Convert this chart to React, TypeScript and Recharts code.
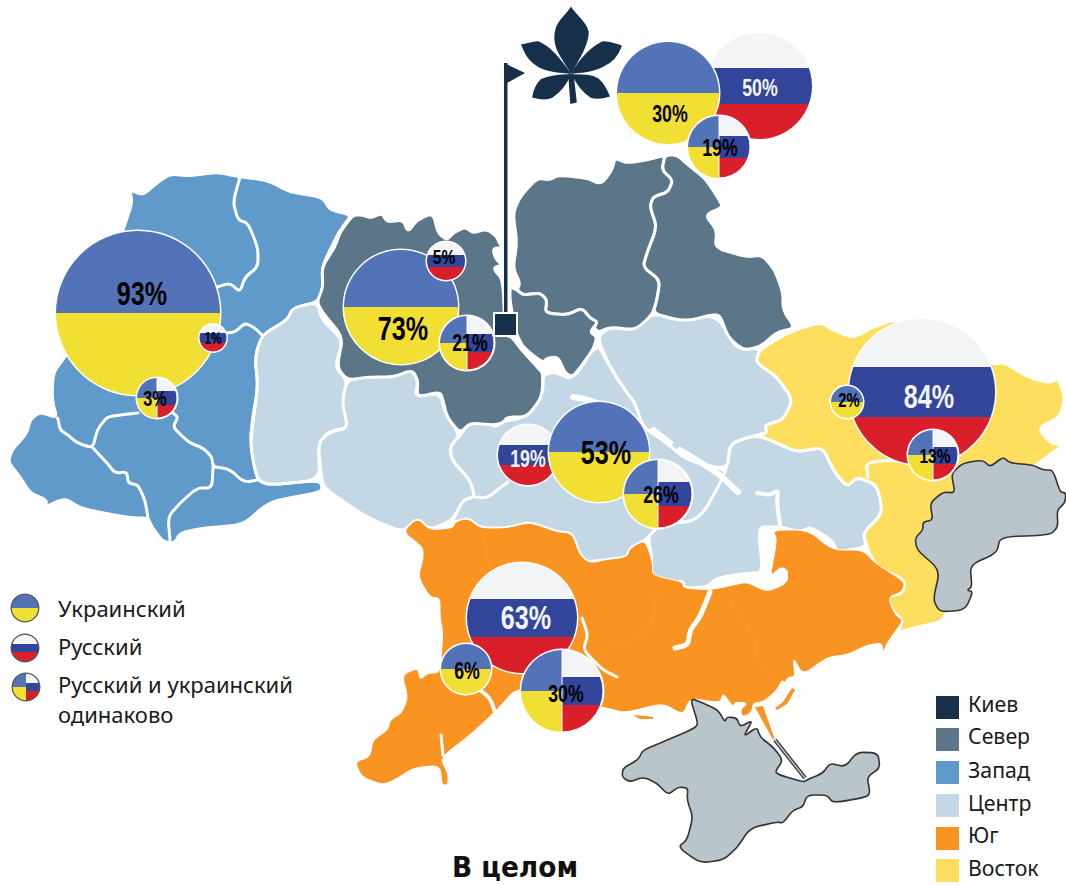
import { PieChart, Pie, Cell } from "recharts";

// values, one per macro region
const regionNames = ["Запад", "Север", "Центр", "Киев", "Юг", "Восток"];
const ukrainian = [93, 73, 53, 30, 6, 2];
const russian = [1, 5, 19, 50, 63, 84];
const both = [3, 21, 26, 19, 30, 13];

const legendLanguages = ["Украинский", "Русский", "Русский и украинский", "одинаково"];
const legendRegions = ["Киев", "Север", "Запад", "Центр", "Юг", "Восток"];
const legendColors = ["#17304A", "#5A7688", "#5F9ACB", "#C3D8E4", "#F99422", "#FDDE5F"];

// flag parts, the slices every circle is cut into
const uaSlices = [{ name: "синий", value: 1 }, { name: "жёлтый", value: 1 }];
const ruSlices = [{ name: "триколор", value: 1 }];
const bothSlices = [{ name: "синий", value: 1 }, { name: "жёлтый", value: 1 }, { name: "триколор", value: 2 }];

const BLUE = "#5373B8";
const YELLOW = "#F2DF33";

// layout, same order as regionNames: [cx, cy, r, label dx, label dy, font size]
const uaLayout = [
  [138, 313, 82, 4, -20, 34],
  [401, 307, 57, 2, 21, 34],
  [599, 452, 50, 7, 0, 34],
  [668, 93, 51, 2, 20, 24],
  [466, 669, 25, 1, 1, 24],
  [847, 402, 16, 2, -2, 20],
];
const ruLayout = [
  [213, 338, 13.5, 0, 0, 16],
  [446, 261, 19, -2, -4, 21],
  [528, 455, 30, 0, 3, 24],
  [759, 86, 53, 1, 1, 24],
  [522, 618, 55, 4, -1, 34],
  [922, 392, 73, 7, 4, 34],
];
const bothLayout = [
  [157, 398, 20, -2, 0, 22],
  [467, 343, 27, 3, -1, 24],
  [658, 494, 34, 3, 0, 24],
  [719, 147, 31, 1, 0, 24],
  [562, 691, 41, 4, 2, 24],
  [933, 455, 25, 2, 1, 21],
];

const west = "130,190 143,195 157,183 170,174 190,176 217,172 240,177 267,180 290,192 310,195 323,198 330,210 352,215 340,230 330,250 322,267 323,290 317,302 293,308 287,320 262,335 255,357 258,387 253,415 250,443 257,480 270,485 320,480 323,492 277,500 263,507 243,525 203,528 180,533 175,543 163,542 152,527 148,518 132,518 103,513 80,508 65,498 45,507 47,500 30,493 20,477 8,462 12,450 27,433 30,420 40,412 57,418 52,400 53,373 65,357 100,300 127,218 132,203";
const westLines = [
  "240,177 233,202 238,220 248,223 258,248 258,267 245,277 240,292 230,283 217,287",
  "262,335 255,328 245,323 235,332 227,333",
  "173,413 178,417 173,427 183,437 190,443 203,448 212,457 213,467 225,468 233,472 240,479 247,482 257,480",
  "138,413 120,415 107,417 97,430 93,448 77,443 68,435 60,430 58,418 57,418",
  "93,448 107,463 115,473 127,472 128,483 138,485 145,500 148,518",
  "213,467 212,488 197,488 180,503 168,517 170,540",
];
const center = [
  "262,335 287,320 293,308 317,302 322,320 343,340 335,367 347,380 343,400 350,427 327,432 318,447 320,480 270,485 257,480 250,443 258,387 255,357",
  "347,380 365,377 383,375 400,374 410,368 418,380 415,397 440,393 445,413 460,435 450,447 452,460 470,480 475,497 463,500 453,520 430,530 417,518 403,532 380,523 360,513 327,490 322,482 318,443 330,432 348,428 342,402",
  "460,435 470,423 483,422 497,427 500,422 523,418 543,393 543,375 555,372 573,380 597,343 610,367 627,393 635,403 643,427 663,440 687,460 727,470 740,492 700,520 660,525 648,537 645,540 630,548 627,557 603,560 588,562 580,555 572,533 557,532 530,522 507,528 480,528 468,518 455,522 453,520 463,500 475,497 470,480 452,460 450,447",
  "727,470 730,443 757,435 777,443 797,452 823,447 833,470 847,487 857,477 877,485 883,513 863,533 867,547 837,552 832,540 810,527 800,532 780,527 775,527 758,527 763,573 747,573 717,578 707,587 685,588 682,580 670,587 650,573 652,557 648,537 660,525 700,520",
  "597,337 610,327 633,330 653,313 677,320 717,315 737,350 760,348 757,363 777,377 793,400 783,420 765,425 767,433 757,435 730,443 727,470 687,460 663,440 643,427 635,403 627,393 610,367",
];
const north = [
  "353,215 363,215 370,218 382,213 387,222 403,220 408,232 417,220 433,213 438,233 447,240 453,233 465,227 473,233 487,229 497,237 500,245 508,248 493,248 495,258 502,265 493,268 503,280 505,335 512,337 520,348 537,367 543,373 542,397 527,417 507,417 503,423 493,425 470,423 460,433 447,417 443,400 440,392 417,397 418,380 412,370 393,377 370,377 347,380 337,367 343,337 323,313 317,302 323,287 322,267 335,247 340,232",
  "513,213 520,197 537,178 550,180 558,175 587,178 597,183 603,182 612,170 615,158 627,163 647,160 665,155 662,170 673,180 668,192 653,197 650,207 657,227 647,253 643,267 660,280 657,300 652,315 635,330 610,327 597,333 590,318 582,308 567,315 545,313 547,300 540,293 523,295 517,290 520,283 513,268 517,243",
  "665,155 677,155 688,165 705,178 718,198 723,207 705,215 717,230 715,248 747,257 762,255 775,270 783,293 783,310 795,328 777,332 760,347 743,350 728,337 720,315 710,315 693,320 677,320 653,313 657,300 660,280 643,267 647,253 657,227 650,207 653,197 668,192 673,180 662,170",
  "510,287 517,290 523,295 540,293 547,300 545,313 567,315 582,308 590,318 598,322 590,332 597,337 593,350 573,377 565,373 558,357 547,358 543,363 523,347 518,337 515,330 510,300",
];
const east = "757,357 760,350 787,333 820,322 833,330 853,338 873,327 900,318 993,365 1003,362 1030,378 1050,383 1058,378 1065,397 1060,417 1038,428 1050,443 1063,445 1047,457 1030,470 960,480 950,500 950,620 913,628 898,633 903,620 892,610 887,597 903,593 905,580 877,567 867,548 863,533 883,513 877,485 857,477 847,487 833,470 823,447 797,452 777,443 757,435 767,433 765,425 783,420 793,400 777,377 757,363";
const south = "403,532 417,518 430,530 453,528 455,522 468,518 480,528 507,528 530,522 557,532 572,533 580,555 588,562 597,562 603,560 627,557 630,548 645,540 653,563 652,575 683,582 683,588 710,590 733,585 747,582 767,592 787,583 788,570 780,567 770,577 777,540 773,530 808,530 832,550 863,550 875,563 905,582 902,592 888,597 895,615 903,620 895,632 887,643 883,653 882,643 867,645 847,655 827,657 803,675 793,657 795,677 788,677 785,683 782,680 777,690 763,702 753,703 752,712 743,717 740,710 748,703 735,702 733,707 723,693 720,703 690,698 683,715 663,703 625,713 607,708 560,700 517,687 497,710 470,735 440,758 448,773 448,785 442,785 440,765 413,768 398,778 383,785 362,777 355,762 370,757 373,740 388,730 390,720 402,713 408,697 402,675 418,668 420,680 428,673 440,673 443,633 440,617 440,598 430,597 418,577 423,560 423,547";
const southIslands = [
  "633,715 645,716 653,717 653,719 640,719",
  "775,708 783,702 792,688 795,690 787,704 777,710",
  "755,707 763,706 775,740 772,738",
];
const southFaintLines = [
  "727,595 740,617 758,643 753,657 777,677",
  "657,590 650,633 600,650",
  "483,533 490,567",
];
const donbas = "953,472 963,463 983,460 990,467 1003,457 1010,463 1033,465 1043,470 1053,470 1060,492 1066,493 1065,503 1057,510 1058,527 1050,535 1000,537 997,553 970,565 972,587 967,590 973,592 965,610 940,612 933,600 940,570 917,550 915,538 923,530 923,522 933,520 930,503 943,492 955,493 952,477";
const crimea = "690,698 698,723 695,728 663,742 643,750 638,760 623,768 622,777 630,782 643,777 657,783 668,795 678,787 688,788 687,800 693,817 687,840 678,847 700,863 723,860 737,848 750,828 777,822 783,823 793,810 803,807 807,795 827,795 833,803 867,797 870,792 867,777 880,768 878,753 857,752 845,767 830,763 823,773 807,780 803,782 780,775 775,772 783,760 773,747 760,737 757,727 743,737 753,720 740,727 737,718 727,717 725,722 718,710 703,703";
const whiteStrokes: [string, number][] = [
  ["475,497 487,498 500,488 508,482", 3],
  ["653,430 670,443", 6],
  ["680,450 700,462 720,475 738,492", 6],
  ["573,397 585,399 597,403", 6],
  ["757,493 770,495 778,490 777,503 780,525", 4],
  ["710,592 700,617 690,630 688,645 675,648", 5],
  ["582,618 588,635 583,650 603,670 617,677", 3],
  ["480,690 490,698 495,712", 4],
  ["868,477 866,463 887,460 905,462", 3],
  ["441,735 443,755", 3],
];

// rounds the corners of a traced outline, the source map has no hard angles
const CORNER = 0.35;
function roundedPath(points: string, closed = true) {
  const pts = points.split(" ").map((p) => p.split(",").map(Number));
  const n = pts.length;
  const along = (a: number[], b: number[], t: number) => `${a[0] + (b[0] - a[0]) * t},${a[1] + (b[1] - a[1]) * t}`;
  if (!closed) {
    let d = `M${pts[0].join(",")}`;
    for (let i = 1; i < n - 1; i++) {
      d += ` L${along(pts[i], pts[i - 1], CORNER)} Q${pts[i].join(",")} ${along(pts[i], pts[i + 1], CORNER)}`;
    }
    return d + ` L${pts[n - 1].join(",")}`;
  }
  let d = `M${along(pts[0], pts[n - 1], CORNER)}`;
  for (let i = 0; i < n; i++) {
    const next = pts[(i + 1) % n];
    const prev = pts[(i - 1 + n) % n];
    d += ` L${along(pts[i], prev, CORNER)} Q${pts[i].join(",")} ${along(pts[i], next, CORNER)}`;
  }
  return d + " Z";
}

const MapBackground = () => (
  <svg width={1066} height={885} style={{ position: "absolute", left: 0, top: 0 }}>
    <g stroke="#fff" strokeWidth={3} strokeLinejoin="round" strokeLinecap="round">
      <path d={roundedPath(west)} fill="#5F9ACB" />
      {westLines.map((l) => <path key={l} d={roundedPath(l, false)} fill="none" />)}
      {center.map((p) => <path key={p} d={roundedPath(p)} fill="#C3D8E4" />)}
      {north.map((p) => <path key={p} d={roundedPath(p)} fill="#5A7688" />)}
      <path d={roundedPath(east)} fill="#FDDE5F" />
      <path d={roundedPath(south)} fill="#F99422" strokeWidth={1} />
      {southIslands.map((p) => <polygon key={p} points={p} fill="#F99422" stroke="none" />)}
      {southFaintLines.map((l) => <path key={l} d={roundedPath(l, false)} fill="none" stroke="#FBA448" strokeWidth={0.6} />)}
      {whiteStrokes.map(([l, w]) => <path key={l} d={roundedPath(l, false)} fill="none" strokeWidth={w} />)}
    </g>
    <path d={roundedPath(donbas)} fill="#B9C5CB" stroke="#333" strokeWidth={1.6} strokeLinejoin="round" />
    <path d={roundedPath(crimea)} fill="#B9C5CB" stroke="#333" strokeWidth={1.6} strokeLinejoin="round" />
    <polyline points="775,740 805,778" fill="none" stroke="#333" strokeWidth={4} />
    <polyline points="775,740 805,778" fill="none" stroke="#B9C5CB" strokeWidth={1.5} />

    {/* flag pole, Kiev square and the chestnut leaf */}
    <rect x={504} y={63} width={3.5} height={255} fill="#17304A" />
    <polygon points="504,63 525,73 507,83" fill="#17304A" />
    <rect x={494} y={313} width={23} height={23} fill="#17304A" stroke="#fff" strokeWidth={2} />
    <g fill="#17304A" stroke="#17304A" strokeWidth={1.5}>
      <path d="M571,72 C560,55 552,45 556,30 C558,20 566,16 571,8 C576,16 586,22 588,32 C588,45 578,60 571,72 Z" />
      <path d="M570,73 C560,60 552,48 538,42 C532,42 528,44 522,45 C526,55 530,62 540,67 C550,72 560,72 570,73 Z" />
      <path d="M572,73 C580,60 590,48 603,42 C610,42 615,44 621,46 C618,55 612,62 603,66 C592,72 582,72 572,73 Z" />
      <path d="M570,75 C558,75 550,76 541,80 C536,85 534,91 533,97 C540,99 546,100 552,97 C560,92 566,84 570,75 Z" />
      <path d="M573,75 C584,75 592,75 598,79 C604,84 607,91 609,96 C603,98 597,99 591,97 C583,92 577,84 573,75 Z" />
      <polygon points="569,75 571,103 576,102 573,75" />
    </g>

    {/* legends */}
    <g fontFamily='"Noto Sans", sans-serif' fontSize={22} fill="#1a1a1a">
      <text x={58} y={617}>{legendLanguages[0]}</text>
      <text x={58} y={655}>{legendLanguages[1]}</text>
      <text x={58} y={693}>{legendLanguages[2]}</text>
      <text x={58} y={723}>{legendLanguages[3]}</text>
    </g>
    <g fontFamily='"Noto Sans", sans-serif' fontSize={21.3} fill="#1a1a1a">
      {legendRegions.map((r, i) => (
        <g key={r}>
          <rect x={936} y={[696, 728, 761, 794, 827, 859][i]} width={23} height={23} fill={legendColors[i]} />
          <text x={968} y={[712, 744, 778, 811, 843, 876][i]}>{r}</text>
        </g>
      ))}
    </g>
    <text x={452} y={877} textLength={126} lengthAdjust="spacingAndGlyphs" fontFamily='"DejaVu Sans", sans-serif' fontWeight="bold" fontSize={28} fill="#111">В целом</text>
  </svg>
);

type Kind = "ua" | "ru" | "both";
const kindSlices = { ua: uaSlices, ru: ruSlices, both: bothSlices };
const kindFills = { ua: [BLUE, YELLOW], ru: ["url(#tricolor)"], both: [BLUE, YELLOW, "url(#tricolor)"] };
const kindAngles = { ua: [0, 360], ru: [90, 450], both: [90, 450] };

// one flag circle = a white backing disc plus the flag slices, label on the first slice
function flagPie(kind: Kind, value: number, cfg: number[], key: string) {
  const [cx, cy, r, dx, dy, fs] = cfg;
  const [startAngle, endAngle] = kindAngles[kind];
  const renderLabel = (p: any) => {
    if (p.index !== 0) return null;
    const light = kind === "ru" && r > 25;
    return (
      <text
        transform={`translate(${cx + dx} ${cy + dy}) scale(0.74 1)`}
        textAnchor="middle"
        dominantBaseline="central"
        fontFamily='"Liberation Sans", sans-serif'
        fontWeight="bold"
        fontSize={fs}
        fill={light ? "#F3F4F6" : "#000"}
      >
        {value}%
      </text>
    );
  };
  return [
    <Pie key={key + "-bg"} data={ruSlices} dataKey="value" cx={cx} cy={cy} outerRadius={r + 1.5} innerRadius={0} fill="#fff" stroke="none" isAnimationActive={false} />,
    <Pie
      key={key}
      data={kindSlices[kind]}
      dataKey="value"
      cx={cx}
      cy={cy}
      outerRadius={r}
      innerRadius={0}
      startAngle={startAngle}
      endAngle={endAngle}
      stroke="none"
      isAnimationActive={false}
      labelLine={false}
      label={renderLabel}
    >
      {kindFills[kind].map((f, i) => (
        <Cell key={i} fill={f} stroke={kind === "both" && i === 2 ? "#fff" : "none"} strokeWidth={1} />
      ))}
    </Pie>,
  ];
}

function legendPie(kind: Kind, cx: number, cy: number) {
  const [startAngle, endAngle] = kindAngles[kind];
  return [
    <Pie key={kind + "-lg-bg"} data={ruSlices} dataKey="value" cx={cx} cy={cy} outerRadius={14.5} innerRadius={0} fill="#555" stroke="none" isAnimationActive={false} />,
    <Pie key={kind + "-lg"} data={kindSlices[kind]} dataKey="value" cx={cx} cy={cy} outerRadius={13.2} innerRadius={0} startAngle={startAngle} endAngle={endAngle} stroke="none" isAnimationActive={false}>
      {kindFills[kind].map((f, i) => <Cell key={i} fill={f} />)}
    </Pie>,
  ];
}

// back to front, some circles overlap
const drawOrder: [Kind, number][] = [
  ["ua", 0], ["ru", 0], ["both", 0],
  ["ua", 1], ["ru", 1], ["both", 1],
  ["ru", 2], ["ua", 2], ["both", 2],
  ["ru", 3], ["ua", 3], ["both", 3],
  ["ru", 4], ["ua", 4], ["both", 4],
  ["ru", 5], ["ua", 5], ["both", 5],
];
const valuesByKind = { ua: ukrainian, ru: russian, both };
const layoutByKind = { ua: uaLayout, ru: ruLayout, both: bothLayout };

export default function App() {
  return (
    <div style={{ position: "absolute", left: 0, top: 0, width: 1066, height: 885, background: "#fff", overflow: "hidden" }}>
      <MapBackground />
      <div style={{ position: "absolute", left: 0, top: 0 }}>
        <PieChart width={1066} height={885} margin={{ top: 0, right: 0, bottom: 0, left: 0 }}>
          <defs>
            <linearGradient id="tricolor" x1="0" y1="0" x2="0" y2="1">
              <stop offset="0.33" stopColor="#F3F4F6" />
              <stop offset="0.33" stopColor="#32459A" />
              <stop offset="0.67" stopColor="#32459A" />
              <stop offset="0.67" stopColor="#D9202A" />
            </linearGradient>
          </defs>
          {drawOrder.flatMap(([kind, i]) =>
            flagPie(kind, valuesByKind[kind][i], layoutByKind[kind][i], kind + regionNames[i])
          )}
          {legendPie("ua", 25, 608)}
          {legendPie("ru", 25, 648)}
          {legendPie("both", 26, 687)}
        </PieChart>
      </div>
    </div>
  );
}
